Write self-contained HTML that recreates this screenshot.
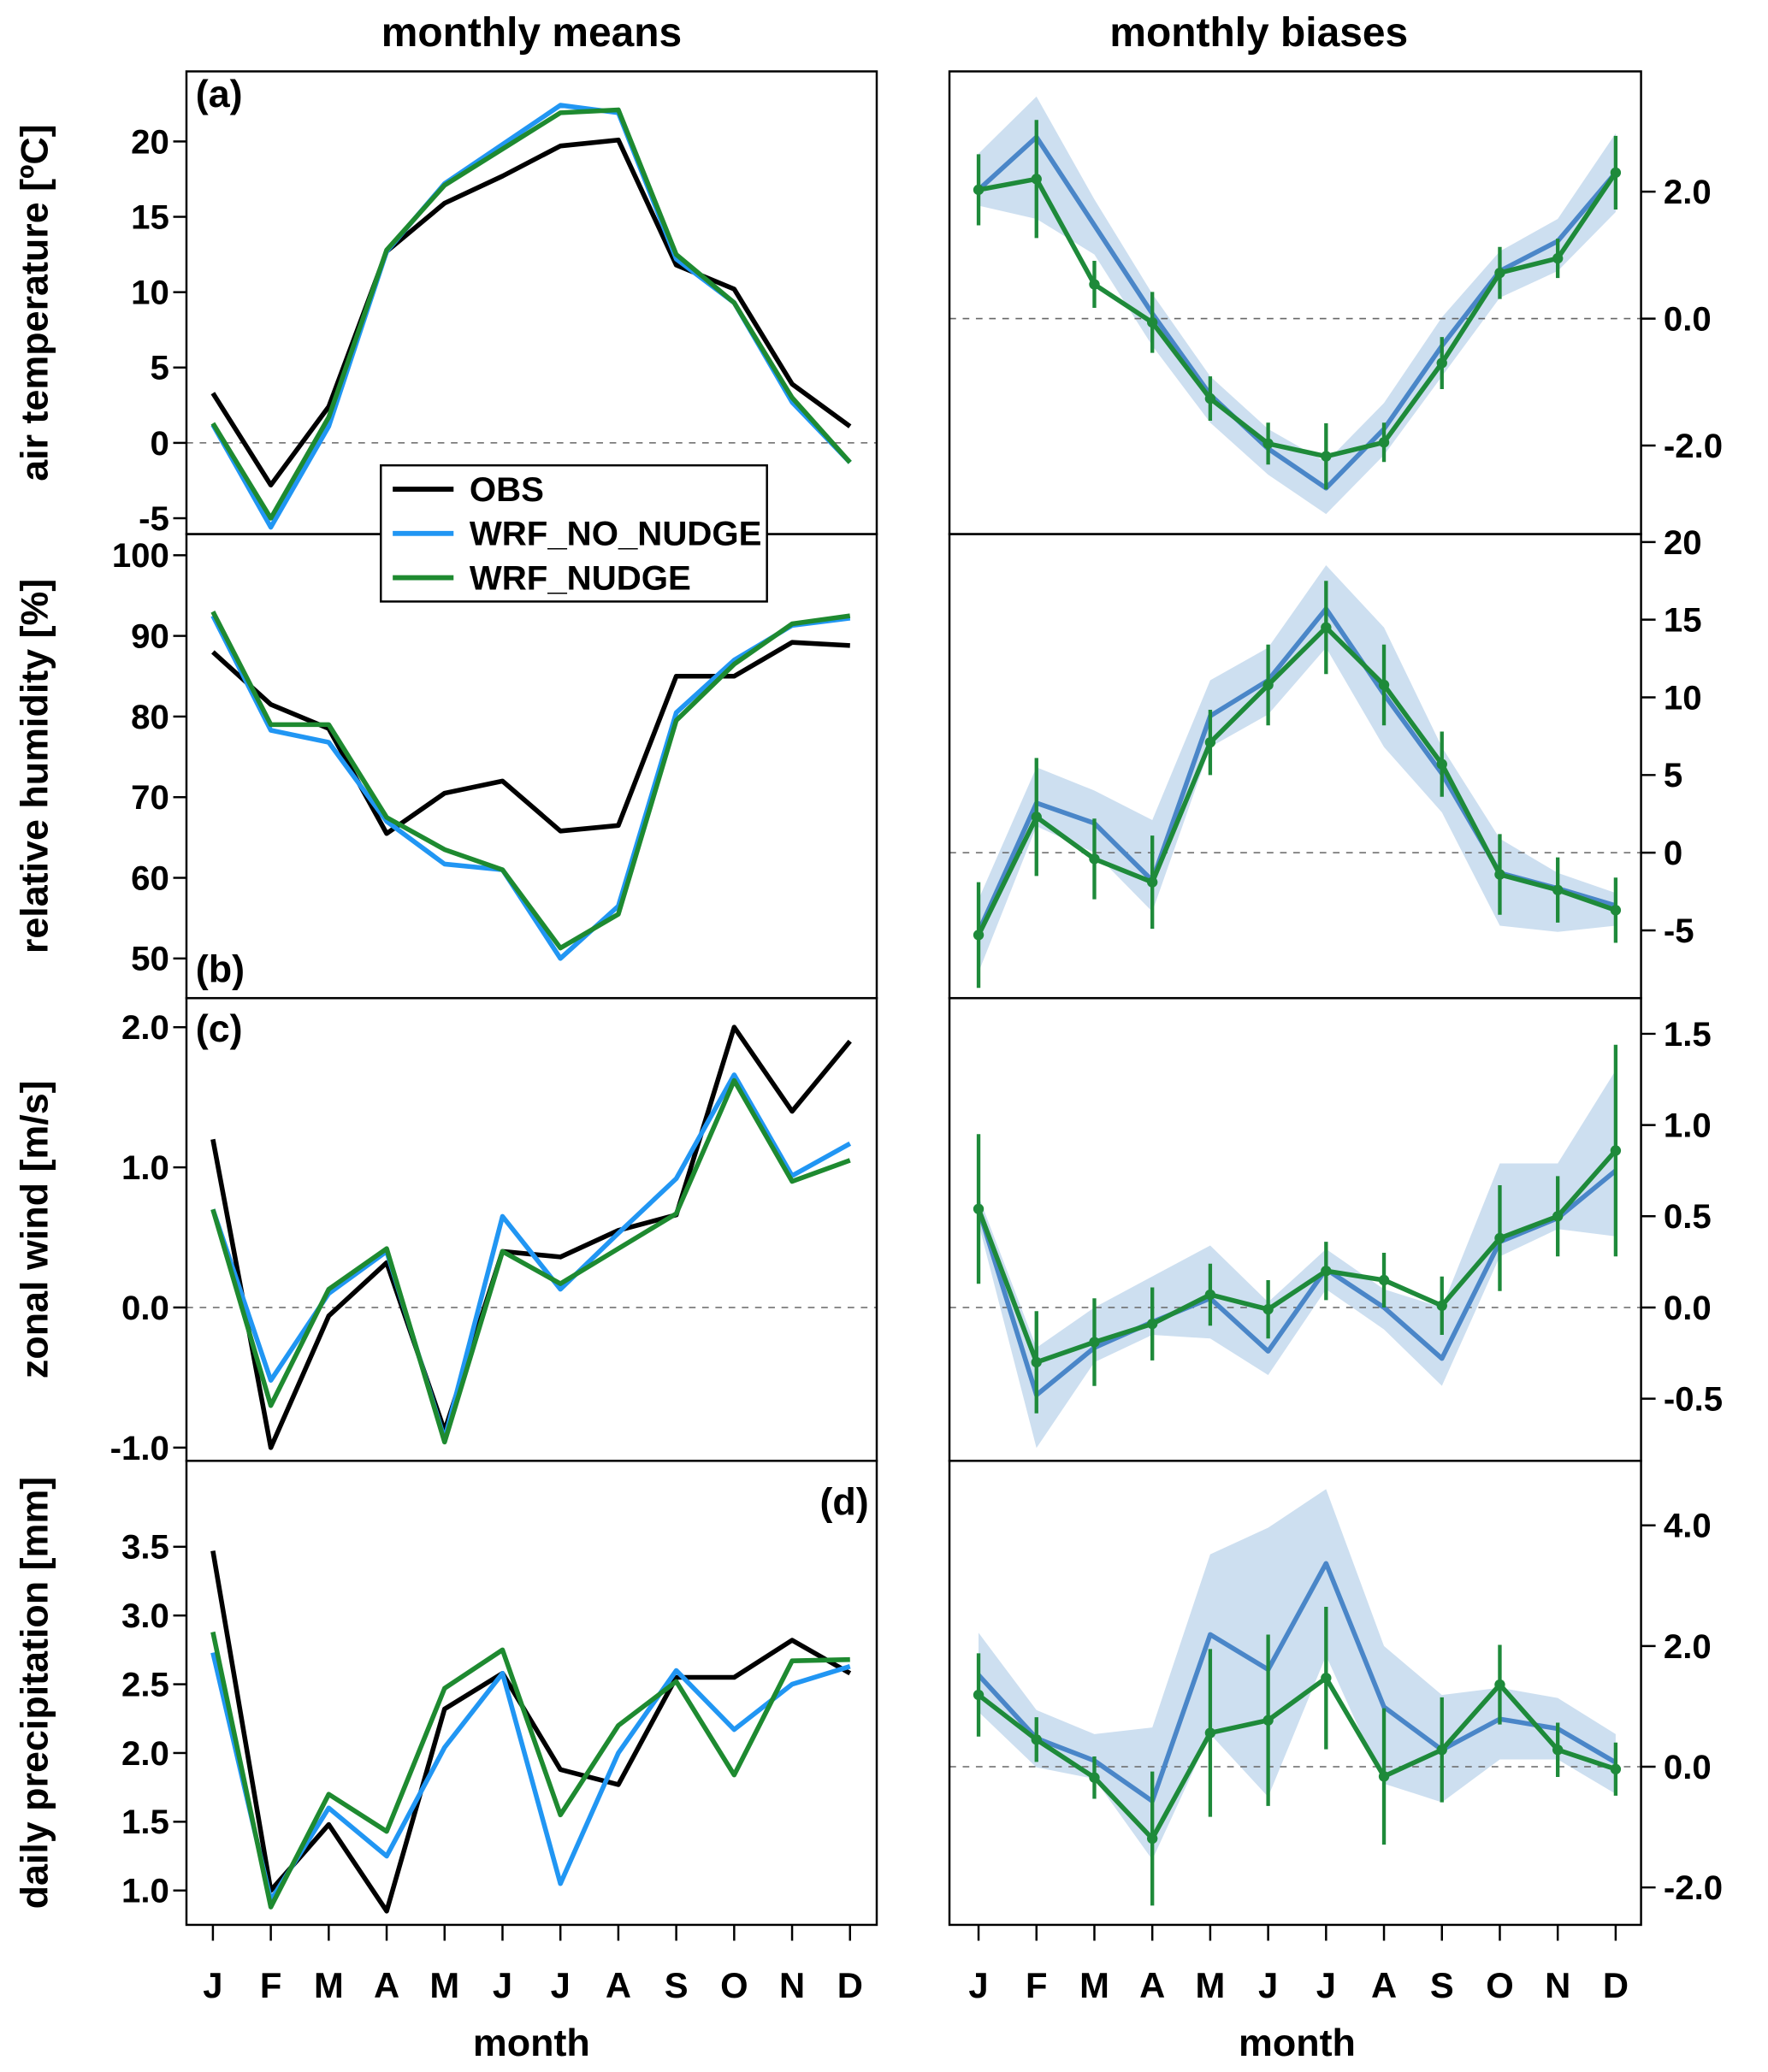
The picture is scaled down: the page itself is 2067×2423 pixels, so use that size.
<!DOCTYPE html>
<html><head><meta charset="utf-8"><style>
html,body{margin:0;padding:0;background:#fff;}
svg{display:block;}
text{font-family:"Liberation Sans",Arial,sans-serif;font-weight:bold;fill:#000;}
</style></head><body>
<svg id="chart" width="2067" height="2423" viewBox="0 0 1337 1567.3" preserveAspectRatio="none" xmlns="http://www.w3.org/2000/svg"></svg>
<script>
const months = ["J","F","M","A","M","J","J","A","S","O","N","D"];
// Left (means)
const taObs = [3.3,-2.8,2.4,12.7,15.9,17.7,19.7,20.1,11.8,10.2,3.9,1.1];
const taNo = [1.2,-5.6,1.1,12.7,17.2,19.8,22.4,21.9,12.2,9.3,2.7,-1.3];
const taNu = [1.3,-5.0,1.7,12.8,17.1,19.5,21.9,22.1,12.5,9.3,3.0,-1.3];
const rhObs = [88,81.5,78.5,65.5,70.5,72,65.8,66.5,85,85,89.2,88.8];
const rhNo = [92.5,78.3,76.8,67,61.7,61,50,56.5,80.5,87,91.3,92.2];
const rhNu = [93,79,79,67.5,63.5,61,51.3,55.5,79.5,86.5,91.5,92.5];
const uObs = [1.2,-1.0,-0.06,0.32,-0.88,0.4,0.36,0.55,0.66,2.0,1.4,1.9];
const uNo = [0.7,-0.52,0.1,0.4,-0.94,0.65,0.13,0.53,0.92,1.66,0.94,1.17];
const uNu = [0.7,-0.7,0.13,0.42,-0.96,0.4,0.17,0.42,0.67,1.62,0.9,1.05];
const prObs = [3.47,1.0,1.48,0.85,2.32,2.58,1.88,1.77,2.55,2.55,2.82,2.58];
const prNo = [2.73,0.93,1.6,1.25,2.04,2.58,1.05,2.0,2.6,2.17,2.5,2.63];
const prNu = [2.88,0.88,1.7,1.43,2.47,2.75,1.55,2.2,2.52,1.84,2.67,2.68];
// Right (biases)
const bTaNo = [2.03,2.86,1.47,0.08,-1.2,-2.05,-2.67,-1.74,-0.43,0.75,1.22,2.3];
const bTaHi = [2.6,3.5,1.88,0.39,-0.91,-1.74,-2.26,-1.33,0.02,1.06,1.57,2.92];
const bTaLo = [1.78,1.57,1.01,-0.43,-1.64,-2.46,-3.08,-2.15,-0.91,0.33,0.75,1.68];
const bTaNu = [2.03,2.2,0.54,-0.06,-1.26,-1.97,-2.17,-1.95,-0.7,0.72,0.95,2.3];
const bTaErr = [0.56,0.93,0.37,0.48,0.35,0.33,0.52,0.31,0.41,0.41,0.31,0.58];
const bRhNo = [-5.1,3.2,1.9,-1.8,8.8,11.1,15.7,10.2,5.1,-1.3,-2.3,-3.4];
const bRhHi = [-3.0,5.5,4.0,2.1,11.1,13.2,18.5,14.5,6.8,0.9,-1.3,-2.6];
const bRhLo = [-7.7,1.7,0,-3.8,6.8,8.9,13.2,6.8,2.6,-4.7,-5.1,-4.7];
const bRhNu = [-5.3,2.3,-0.4,-1.9,7.1,10.8,14.5,10.8,5.7,-1.4,-2.4,-3.7];
const bRhErr = [3.4,3.8,2.6,3.0,2.1,2.6,3.0,2.6,2.1,2.6,2.1,2.1];
const bUNo = [0.54,-0.48,-0.22,-0.08,0.05,-0.24,0.21,0,-0.28,0.36,0.49,0.75];
const bUHi = [0.61,-0.22,0,0.17,0.34,0.03,0.32,0.1,0,0.79,0.79,1.3];
const bULo = [0.46,-0.77,-0.3,-0.15,-0.17,-0.37,0.1,-0.12,-0.43,0.28,0.43,0.39];
const bUNu = [0.54,-0.3,-0.19,-0.09,0.07,-0.01,0.2,0.15,0.01,0.38,0.5,0.86];
const bUErr = [0.41,0.28,0.24,0.2,0.17,0.16,0.16,0.15,0.16,0.29,0.22,0.58];
const bPrNo = [1.52,0.47,0.1,-0.57,2.19,1.61,3.37,0.99,0.28,0.79,0.63,0.07];
const bPrHi = [2.22,0.94,0.54,0.65,3.52,3.96,4.6,2.0,1.19,1.31,1.14,0.54];
const bPrLo = [0.91,-0.01,-0.2,-1.54,0.54,-0.5,1.84,-0.28,-0.59,0.12,0.12,-0.45];
const bPrNu = [1.19,0.45,-0.18,-1.19,0.56,0.77,1.47,-0.16,0.28,1.36,0.28,-0.04];
const bPrErr = [0.69,0.37,0.35,1.11,1.39,1.42,1.18,1.13,0.87,0.66,0.45,0.44];
// ticks
const tTaL = [-5,0,5,10,15,20], tRhL = [50,60,70,80,90,100], tUL = [-1,0,1,2], tPrL = [1,1.5,2,2.5,3,3.5];
const tTaR = [-2,0,2], tRhR = [-5,0,5,10,15,20], tUR = [-0.5,0,0.5,1,1.5], tPrR = [-2,0,2,4];

const NS="http://www.w3.org/2000/svg";
const svg=document.getElementById('chart');
function mk(tag,attrs,parent,name,inter){const e=document.createElementNS(NS,tag);for(const k in attrs)e.setAttribute(k,attrs[k]);


(parent||svg).appendChild(e);return e;}
function txt(s,x,y,size,anchor,parent,name,extra){const t=mk('text',Object.assign({x:x,y:y,'font-size':size,'text-anchor':anchor||'middle'},extra||{}),parent,name);t.textContent=s;return t;}

const LX0=141,LX1=663,RX0=718,RX1=1241;
const rows=[[54,404],[404,755],[755,1105],[1105,1456]];
function xL(i){return 161+i*43.8;} function xR(i){return 740+i*43.8;}
function lin(v0,p0,v1,p1){return v=>p0+(v-v0)*(p1-p0)/(v1-v0);}
const yScalesL=[lin(0,335,20,107),lin(50,725,100,420),lin(-1,1095,2,777),lin(1,1430,3.5,1170)];
const yScalesR=[lin(0,241,2,145),lin(0,645,20,410),lin(0,989,1.5,782),lin(0,1336.4,2,1245.1)];
const leftData=[[taObs,taNo,taNu],[rhObs,rhNo,rhNu],[uObs,uNo,uNu],[prObs,prNo,prNu]];
const rightData=[[bTaNo,bTaHi,bTaLo,bTaNu,bTaErr],[bRhNo,bRhHi,bRhLo,bRhNu,bRhErr],[bUNo,bUHi,bULo,bUNu,bUErr],[bPrNo,bPrHi,bPrLo,bPrNu,bPrErr]];
const ticksL=[tTaL,tRhL,tUL,tPrL], ticksR=[tTaR,tRhR,tUR,tPrR];
const fmtL=[v=>String(v),v=>String(v),v=>v.toFixed(1),v=>v.toFixed(1)];
const fmtR=[v=>v.toFixed(1),v=>String(v),v=>v.toFixed(1),v=>v.toFixed(1)];
const names=['air-temperature','relative-humidity','zonal-wind','daily-precipitation'];
const ytitles=['air temperature [ºC]','relative humidity [%]','zonal wind [m/s]','daily precipitation [mm]'];
const plabels=[['(a)',148,81,'start'],['(b)',148,743,'start'],['(c)',148,788,'start'],['(d)',657,1146,'end']];

txt('monthly means',402,35,31,'middle',null,'left-column-title');
txt('monthly biases',952,35,31,'middle',null,'right-column-title');

function pathD(arr,xf,yf){return arr.map((v,i)=>(i?'L':'M')+xf(i).toFixed(1)+' '+yf(v).toFixed(1)).join(' ');}

rows.forEach((r,k)=>{
  const [t,b]=r;
  const yl=yScalesL[k], yr=yScalesR[k];
  const gl=mk('g',{},null,names[k]+'-means-panel');
  const cl=mk('clipPath',{id:'cl'+k},gl,'clip');mk('rect',{x:LX0,y:t,width:LX1-LX0,height:b-t},cl,'clip-rect');
  const glc=mk('g',{'clip-path':'url(#cl'+k+')'},gl,'plot-area');
  mk('line',{x1:LX0,x2:LX1,y1:yl(0),y2:yl(0),stroke:'#666','stroke-width':1,'stroke-dasharray':'5,5'},glc,'zero-line');
  const cols=['#000','#2196f3','#1e8a30'], sn=['obs','wrf-no-nudge','wrf-nudge'];
  leftData[k].forEach((arr,j)=>{mk('path',{d:pathD(arr,xL,yl),fill:'none',stroke:cols[j],'stroke-width':3.6,'stroke-linejoin':'round'},glc,sn[j]+'-line');});
  mk('rect',{x:LX0,y:t,width:LX1-LX0,height:b-t,fill:'none',stroke:'#000','stroke-width':1.6},gl,'panel-frame');
  ticksL[k].forEach(v=>{const y=yl(v);mk('line',{x1:LX0-10,x2:LX0,y1:y,y2:y,stroke:'#000','stroke-width':1.6},gl,'y-tick');
    txt(fmtL[k](v),128,y+9,26,'end',gl,'y-tick-label');});
  const cy=(t+b)/2;
  txt(ytitles[k],0,0,29,'middle',gl,'y-axis-title',{transform:'translate(36,'+cy+') rotate(-90)'});
  const pl=plabels[k];txt(pl[0],pl[1],pl[2],29,pl[3],gl,'panel-label');
  const gr=mk('g',{},null,names[k]+'-bias-panel');
  const cr=mk('clipPath',{id:'cr'+k},gr,'clip');mk('rect',{x:RX0,y:t,width:RX1-RX0,height:b-t},cr,'clip-rect');
  const grc=mk('g',{'clip-path':'url(#cr'+k+')'},gr,'plot-area');
  const [no,hi,lo,nu,er]=rightData[k];
  let bd=hi.map((v,i)=>(i?'L':'M')+xR(i).toFixed(1)+' '+yr(v).toFixed(1)).join(' ');
  for(let i=11;i>=0;i--)bd+=' L'+xR(i).toFixed(1)+' '+yr(lo[i]).toFixed(1);
  mk('path',{d:bd+' Z',fill:'#cddff0',stroke:'none'},grc,'no-nudge-range-band');
  mk('line',{x1:RX0,x2:RX1,y1:yr(0),y2:yr(0),stroke:'#666','stroke-width':1,'stroke-dasharray':'5,5'},grc,'zero-line');
  mk('path',{d:pathD(no,xR,yr),fill:'none',stroke:'#4a86c8','stroke-width':3.6,'stroke-linejoin':'round'},grc,'wrf-no-nudge-bias-line');
  nu.forEach((v,i)=>{mk('line',{x1:xR(i),x2:xR(i),y1:yr(v-er[i]),y2:yr(v+er[i]),stroke:'#1e8a3a','stroke-width':2.8},grc,'nudge-error-bar');});
  mk('path',{d:pathD(nu,xR,yr),fill:'none',stroke:'#1e8a3a','stroke-width':3.6,'stroke-linejoin':'round'},grc,'wrf-nudge-bias-line');
  nu.forEach((v,i)=>{mk('circle',{cx:xR(i),cy:yr(v),r:4,fill:'#1e8a3a'},grc,'nudge-point');});
  mk('rect',{x:RX0,y:t,width:RX1-RX0,height:b-t,fill:'none',stroke:'#000','stroke-width':1.6},gr,'panel-frame');
  ticksR[k].forEach(v=>{const y=yr(v);mk('line',{x1:RX1,x2:RX1+11,y1:y,y2:y,stroke:'#000','stroke-width':1.6},gr,'y-tick');
    txt(fmtR[k](v),1258,y+9,26,'start',gr,'y-tick-label');});
});
[[xL,'left'],[xR,'right']].forEach(([xf,s])=>{
  const g=mk('g',{},null,s+'-x-axis');
  months.forEach((m,i)=>{mk('line',{x1:xf(i),x2:xf(i),y1:1456,y2:1468,stroke:'#000','stroke-width':1.6},g,'x-tick');
    txt(m,xf(i),1511,27,'middle',g,'x-tick-label');});
  txt('month',(xf(0)+xf(11))/2,1555,29,'middle',g,'x-axis-title');
});
const lg=mk('g',{},null,'legend');
mk('rect',{x:288,y:352,width:292,height:103,fill:'#fff',stroke:'#000','stroke-width':1.6},lg,'legend-box');
[['OBS','#000'],['WRF_NO_NUDGE','#2196f3'],['WRF_NUDGE','#1e8a30']].forEach((e,i)=>{
  const y=370+i*33.5;
  mk('line',{x1:297,x2:343,y1:y,y2:y,stroke:e[1],'stroke-width':3.8},lg,'legend-swatch');
  txt(e[0],355,y+9,26,'start',lg,'legend-entry');
});
</script>
</body></html>
